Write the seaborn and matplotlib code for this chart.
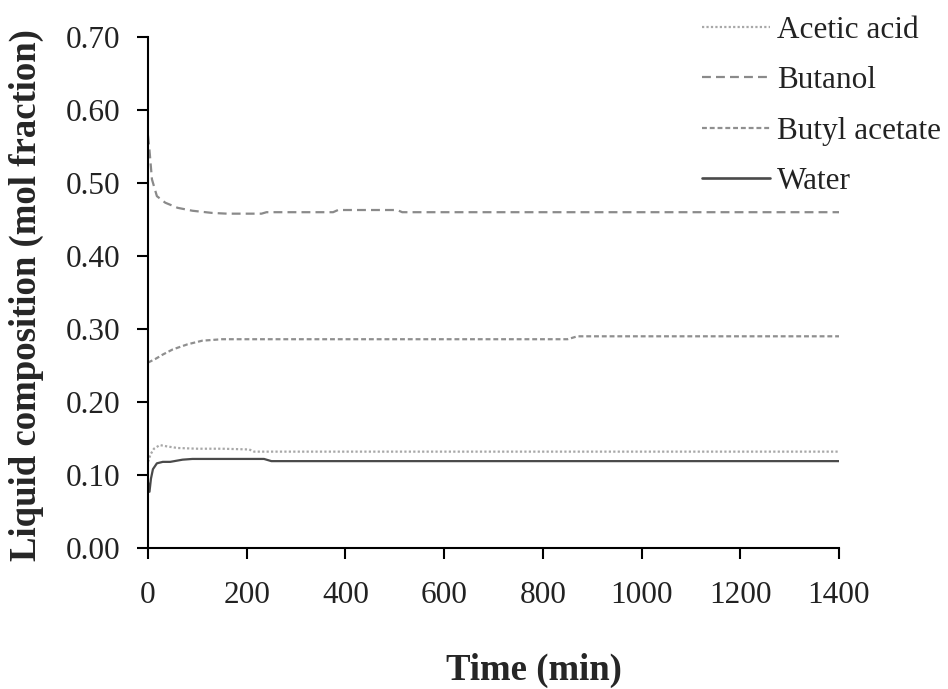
import matplotlib
matplotlib.use("Agg")
import matplotlib.pyplot as plt
import seaborn as sns
import pandas as pd
from matplotlib.ticker import FormatStrFormatter

# ---- data ----
series_names = ["Acetic acid", "Butanol", "Butyl acetate", "Water"]

t_acetic = [0, 5, 12, 24, 40, 60, 100, 150, 205, 215, 400, 800, 1400]
y_acetic = [0.118, 0.128, 0.136, 0.141, 0.139, 0.137, 0.136, 0.136, 0.135, 0.132, 0.132, 0.132, 0.132]

t_butanol = [0, 3, 8, 18, 35, 60, 90, 130, 160, 230, 240, 375, 385, 505, 515, 900, 1400]
y_butanol = [0.565, 0.545, 0.505, 0.482, 0.473, 0.466, 0.462, 0.459, 0.458, 0.458, 0.460, 0.460, 0.463, 0.463, 0.460, 0.460, 0.460]

t_butylac = [0, 15, 30, 50, 80, 110, 150, 170, 850, 870, 1400]
y_butylac = [0.254, 0.259, 0.265, 0.272, 0.279, 0.284, 0.286, 0.286, 0.286, 0.290, 0.290]

t_water = [0, 3, 6, 10, 18, 30, 45, 70, 90, 235, 250, 600, 1400]
y_water = [0.090, 0.077, 0.095, 0.108, 0.116, 0.118, 0.118, 0.121, 0.122, 0.122, 0.119, 0.119, 0.119]

x_ticks = [0, 200, 400, 600, 800, 1000, 1200, 1400]
y_ticks = [0.0, 0.1, 0.2, 0.3, 0.4, 0.5, 0.6, 0.7]

frames = []
for name, t, y in [("Acetic acid", t_acetic, y_acetic), ("Butanol", t_butanol, y_butanol),
                   ("Butyl acetate", t_butylac, y_butylac), ("Water", t_water, y_water)]:
    frames.append(pd.DataFrame({"time": t, "value": y, "component": name}))
df = pd.concat(frames, ignore_index=True)

# ---- styling ----
sns.set_theme(style="ticks")
plt.rcParams["font.family"] = ["Liberation Serif", "DejaVu Serif"]

colors = {"Acetic acid": "#a8a8a8", "Butanol": "#8a8a8a", "Butyl acetate": "#8f8f8f", "Water": "#4a4a4a"}
dashes = {"Acetic acid": (1, 1), "Butanol": (4, 2.3), "Butyl acetate": (2.2, 1.3), "Water": ""}

fig = plt.figure(figsize=(9.48, 6.89), dpi=100)
ax = fig.add_axes([148 / 948, 1 - 548 / 689, (839 - 148) / 948, (548 - 37) / 689])

sns.lineplot(data=df, x="time", y="value", hue="component", style="component",
             hue_order=series_names, style_order=series_names,
             palette=colors, dashes=dashes, linewidth=1.6, ax=ax, estimator=None, sort=False)
for ln in ax.get_lines():
    if ln.get_label() == "Water":
        ln.set_linewidth(1.9)

ax.set_xlim(0, 1400)
ax.set_ylim(0, 0.70)
ax.set_xticks(x_ticks)
ax.set_yticks(y_ticks)
ax.yaxis.set_major_formatter(FormatStrFormatter("%.2f"))
ax.tick_params(axis="both", direction="out", length=8, width=1.5, color="black",
               labelsize=22.5, labelcolor="#222222")
ax.tick_params(axis="x", pad=16)
ax.tick_params(axis="y", pad=12)
for s in ["top", "right"]:
    ax.spines[s].set_visible(False)
for s in ["left", "bottom"]:
    ax.spines[s].set_color("black")
    ax.spines[s].set_linewidth(1.5)

ax.set_xlabel("Time (min)", fontsize=26.5, fontweight="bold", va="center")
ax.set_ylabel("Liquid composition (mol fraction)", fontsize=26.5, fontweight="bold", va="center")
ax.xaxis.set_label_coords((534 - 148) / 691, -(670 - 548) / 511)
ax.yaxis.set_label_coords((26 - 148) / 691, (548 - 295) / 511)

leg = ax.legend(loc="upper right", bbox_to_anchor=(1.006, 1 - 3 / 689), bbox_transform=fig.transFigure,
                frameon=False, fontsize=22.5, handlelength=2.18, handletextpad=0.22,
                labelspacing=0.69, borderaxespad=0.0)
for txt in leg.get_texts():
    txt.set_color("#222222")
for h in leg.get_lines():
    if h.get_label() == "Water":
        h.set_linewidth(1.9)

fig.savefig("out.png", dpi=100, facecolor="white")
